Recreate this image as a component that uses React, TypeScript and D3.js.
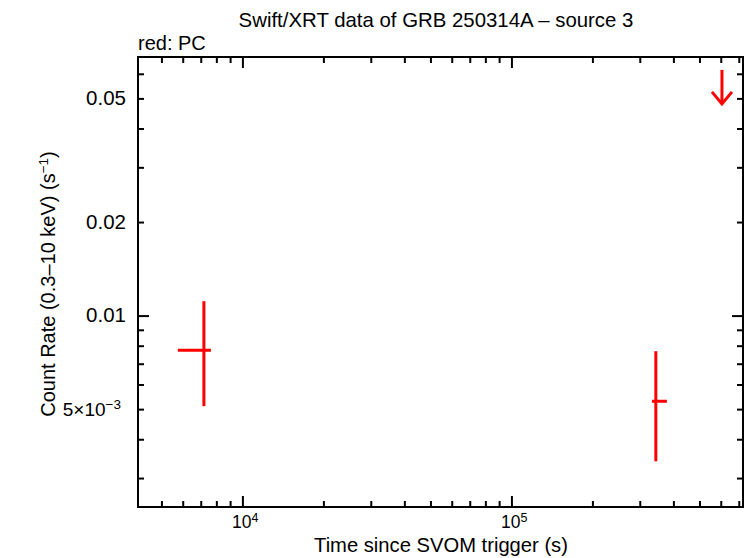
import React from "react";
import * as d3 from "d3";

const W = 746;
const H = 558;

// PC mode data points
const pcTime = [7161, 342700];
const pcTimeLo = [5728, 331500];
const pcTimeHi = [7604, 376700];
const pcRate = [0.00777, 0.00532];
const pcRateLo = [0.00513, 0.00341];
const pcRateHi = [0.01117, 0.00771];

// upper limit
const ulTime = [603600];
const ulRate = [0.062];
const ulArrowTip = [0.0482];

const xMajor = [1e4, 1e5];
const xMinor = [5000, 6000, 7000, 8000, 9000, 2e4, 3e4, 4e4, 5e4, 6e4, 7e4, 8e4, 9e4, 2e5, 3e5, 4e5, 5e5, 6e5, 7e5];
const xTickLabels = [{ v: 1e4, base: "10", exp: "4" }, { v: 1e5, base: "10", exp: "5" }];
const yMajor = [0.01];
const yMinor = [0.003, 0.004, 0.005, 0.006, 0.007, 0.008, 0.009, 0.02, 0.03, 0.04, 0.05, 0.06];
const yTickLabels = ["0.05", "0.02", "0.01"];
const yTickValues = [0.05, 0.02, 0.01];

const L = 138, R = 743, T = 57, B = 507;
const FONT = "'Liberation Sans', Arial, Helvetica, sans-serif";

export default function App() {
  const x = d3.scaleLog().domain([4074, 722700]).range([L, R]);
  const y = d3.scaleLog().domain([0.00243, 0.0682]).range([B, T]);
  const red = "#ff0000";

  return (
    <svg width={W} height={H} style={{ position: "absolute", left: 0, top: 0, background: "#fff" }}>
      <rect x={0} y={0} width={W} height={H} fill="#fff" />
      <text x={436} y={27} fontFamily={FONT} fontSize={20.4} textAnchor="middle">Swift/XRT data of GRB 250314A – source 3</text>
      <text x={138} y={50} fontFamily={FONT} fontSize={20}>red: PC</text>

      {/* ticks */}
      <g stroke="#000" strokeWidth={2}>
        {xMinor.map((v, i) => (
          <g key={"xm" + i}>
            <line x1={x(v)} x2={x(v)} y1={B} y2={B - 6} />
            <line x1={x(v)} x2={x(v)} y1={T} y2={T + 6} />
          </g>
        ))}
        {xMajor.map((v, i) => (
          <g key={"xM" + i}>
            <line x1={x(v)} x2={x(v)} y1={B} y2={B - 11} />
            <line x1={x(v)} x2={x(v)} y1={T} y2={T + 11} />
          </g>
        ))}
        {yMinor.map((v, i) => (
          <g key={"ym" + i}>
            <line x1={L} x2={L + 6} y1={y(v)} y2={y(v)} />
            <line x1={R} x2={R - 6} y1={y(v)} y2={y(v)} />
          </g>
        ))}
        {yMajor.map((v, i) => (
          <g key={"yM" + i}>
            <line x1={L} x2={L + 11} y1={y(v)} y2={y(v)} />
            <line x1={R} x2={R - 11} y1={y(v)} y2={y(v)} />
          </g>
        ))}
      </g>
      <rect x={L} y={T} width={R - L} height={B - T} fill="none" stroke="#000" strokeWidth={2} />

      {/* y tick labels */}
      {yTickValues.map((v, i) => (
        <text key={"yl" + i} x={126} y={y(v) + 6} fontFamily={FONT} fontSize={20.5} textAnchor="end">{yTickLabels[i]}</text>
      ))}
      <text x={121} y={y(0.005) + 6} fontFamily={FONT} fontSize={19} textAnchor="end">
        5×10<tspan fontSize={13.5} dy={-7}>−3</tspan>
      </text>

      {/* x tick labels */}
      {xTickLabels.map((t, i) => (
        <text key={"xl" + i} x={x(t.v) - 11} y={528} fontFamily={FONT} fontSize={17.5} textAnchor="start">
          {t.base}<tspan fontSize={12.5} dy={-6}>{t.exp}</tspan>
        </text>
      ))}

      <text x={441} y={552} fontFamily={FONT} fontSize={20.2} textAnchor="middle">Time since SVOM trigger (s)</text>
      <text transform={`translate(55,284) rotate(-90)`} fontFamily={FONT} fontSize={20} textAnchor="middle">
        Count Rate (0.3–10 keV) (s<tspan fontSize={13.5} dy={-7}>−1</tspan><tspan dy={7}>)</tspan>
      </text>

      {/* data */}
      <g stroke={red} strokeWidth={3}>
        {pcTime.map((t, i) => (
          <g key={"pc" + i}>
            <line x1={x(pcTimeLo[i])} x2={x(pcTimeHi[i])} y1={y(pcRate[i])} y2={y(pcRate[i])} />
            <line x1={x(t)} x2={x(t)} y1={y(pcRateLo[i])} y2={y(pcRateHi[i])} />
          </g>
        ))}
        {ulTime.map((t, i) => (
          <g key={"ul" + i} fill="none">
            <line x1={x(t)} x2={x(t)} y1={y(ulRate[i])} y2={y(ulArrowTip[i])} />
            <polyline points={`${x(t) - 10},${y(ulArrowTip[i]) - 12} ${x(t)},${y(ulArrowTip[i])} ${x(t) + 10},${y(ulArrowTip[i]) - 12}`} />
          </g>
        ))}
      </g>
    </svg>
  );
}
